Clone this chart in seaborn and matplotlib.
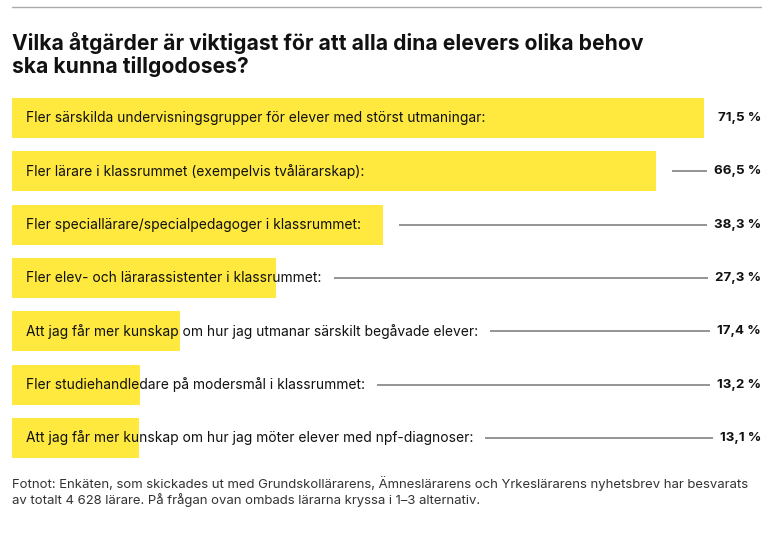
import matplotlib
matplotlib.use("Agg")
import matplotlib.pyplot as plt
import seaborn as sns
import pandas as pd

categories = [
    "Fler särskilda undervisningsgrupper för elever med störst utmaningar:",
    "Fler lärare i klassrummet (exempelvis tvålärarskap):",
    "Fler speciallärare/specialpedagoger i klassrummet:",
    "Fler elev- och lärarassistenter i klassrummet:",
    "Att jag får mer kunskap om hur jag utmanar särskilt begåvade elever:",
    "Fler studiehandledare på modersmål i klassrummet:",
    "Att jag får mer kunskap om hur jag möter elever med npf-diagnoser:",
]
values = [71.5, 66.5, 38.3, 27.3, 17.4, 13.2, 13.1]
value_labels = ["71,5 %", "66,5 %", "38,3 %", "27,3 %", "17,4 %", "13,2 %", "13,1 %"]

title = "Vilka åtgärder är viktigast för att alla dina elevers olika behov\nska kunna tillgodoses?"
footnote = ("Fotnot: Enkäten, som skickades ut med Grundskollärarens, Ämneslärarens och Yrkeslärarens nyhetsbrev har besvarats\n"
            "av totalt 4 628 lärare. På frågan ovan ombads lärarna kryssa i 1–3 alternativ.")

sns.set_theme(style="white")
plt.rcParams["font.family"] = ["Inter", "DejaVu Sans"]

W, H = 782, 535
fig = plt.figure(figsize=(W / 100, H / 100), dpi=100)
fig.patch.set_facecolor("white")

# axes geometry in pixels
ax_left, ax_right = 12, 761
ax_top, ax_bottom = 91.33, 464.67
ax = fig.add_axes([ax_left / W, 1 - ax_bottom / H, (ax_right - ax_left) / W, (ax_bottom - ax_top) / H])

df = pd.DataFrame({"cat": categories, "val": values})
sns.barplot(data=df, y="cat", x="val", orient="h", color="#FFE93F", saturation=1,
            width=0.75, ax=ax, linewidth=0)

px_per_unit = 692 / 71.5
ax.set_xlim(0, (ax_right - ax_left) / px_per_unit)
ax.set_ylim(len(categories) - 0.5, -0.5)
ax.axis("off")

label_texts, value_texts = [], []
for i, (c, v, vl) in enumerate(zip(categories, values, value_labels)):
    t = ax.text(14 / px_per_unit, i, c, ha="left", va="center", fontsize=9.95, color="#111111")
    label_texts.append(t)
    vt = ax.text(1.0, i, vl, transform=ax.get_yaxis_transform(), ha="right", va="center",
                 fontsize=9.6, fontweight="bold", color="#111111")
    value_texts.append(vt)

# title, top rule and footnote
fig.add_artist(plt.Line2D([12 / W, 761 / W], [1 - 7 / H, 1 - 7 / H], color="#aaaaaa", lw=1))
fig.text(12 / W, 1 - 32 / H, title, ha="left", va="top", fontsize=15.2, fontweight="bold",
         color="#111111", linespacing=1.1)
fig.text(12 / W, 1 - 476 / H, footnote, ha="left", va="top", fontsize=9.45, color="#333333",
         linespacing=1.22)

# leader lines from end of label/bar to value
fig.canvas.draw()
renderer = fig.canvas.get_renderer()
inv = ax.transData.inverted()
for i, v in enumerate(values):
    lb = label_texts[i].get_window_extent(renderer)
    vb = value_texts[i].get_window_extent(renderer)
    lab_end = inv.transform((lb.x1, 0))[0]
    val_start = inv.transform((vb.x0, 0))[0]
    start = max(lab_end + 12 / px_per_unit, v + 16 / px_per_unit)
    end = val_start - 7 / px_per_unit
    if end > start:
        ax.plot([start, end], [i, i], color="#777777", lw=1.1, solid_capstyle="butt")

fig.savefig("out.png", dpi=100)
